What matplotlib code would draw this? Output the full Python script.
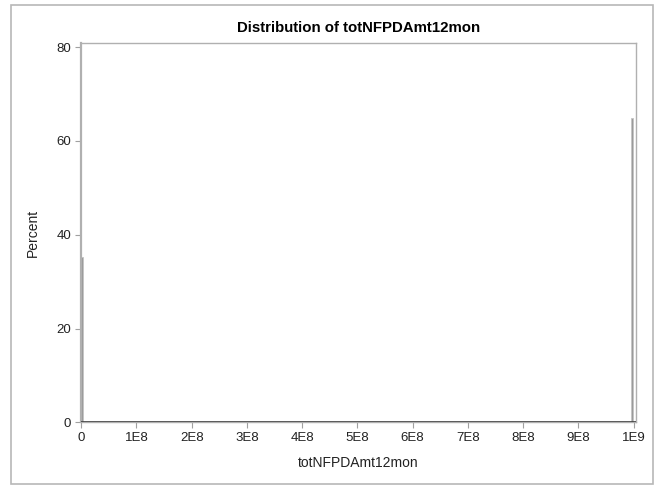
import matplotlib.pyplot as plt
from matplotlib.patches import Rectangle

# histogram bins (midpoints) and percent values
bin_mids = [1.0e6, 0.997e9]
percents = [35.2, 64.8]
bin_width = 3.0e6

x_ticks = [0, 1e8, 2e8, 3e8, 4e8, 5e8, 6e8, 7e8, 8e8, 9e8, 1e9]
x_labels = ['0', '1E8', '2E8', '3E8', '4E8', '5E8', '6E8', '7E8', '8E8', '9E8', '1E9']
y_ticks = [0, 20, 40, 60, 80]

plt.rcParams['font.family'] = ['Liberation Sans', 'DejaVu Sans']

fig = plt.figure(figsize=(6.57, 4.87), dpi=100)
ax = fig.add_axes([0.1228, 0.1329, 0.8448, 0.7788])

# outer border
fig.patches.append(Rectangle((11 / 657, 3 / 487), 642 / 657, 479 / 487,
                             transform=fig.transFigure, fill=False,
                             edgecolor='#b8b8b8', linewidth=1.2))

ax.bar(bin_mids, percents, width=bin_width, color='#9a9a9a',
       edgecolor='#c4c4c4', linewidth=0.6)
ax.axhline(0, color='#404040', linewidth=1.2, zorder=3)

ax.set_xlim(-0.01e8, 10.04e8)
ax.set_ylim(0, 80.9)
ax.set_xticks(x_ticks)
ax.set_xticklabels(x_labels)
ax.set_yticks(y_ticks)

for s in ax.spines.values():
    s.set_color('#b0b0b0')
    s.set_linewidth(1.0)
ax.spines['left'].set_linewidth(1.6)

ax.tick_params(axis='both', direction='out', length=4, width=0.8,
               color='#a0a0a0', labelsize=9.5, labelcolor='#222222', pad=3)

ax.set_title('Distribution of totNFPDAmt12mon', fontsize=10.8, fontweight='bold',
             pad=8)
ax.set_xlabel('totNFPDAmt12mon', fontsize=10, color='#222222', labelpad=9)
ax.set_ylabel('Percent', fontsize=10, color='#222222', labelpad=12)

fig.savefig('out.png', dpi=100)
